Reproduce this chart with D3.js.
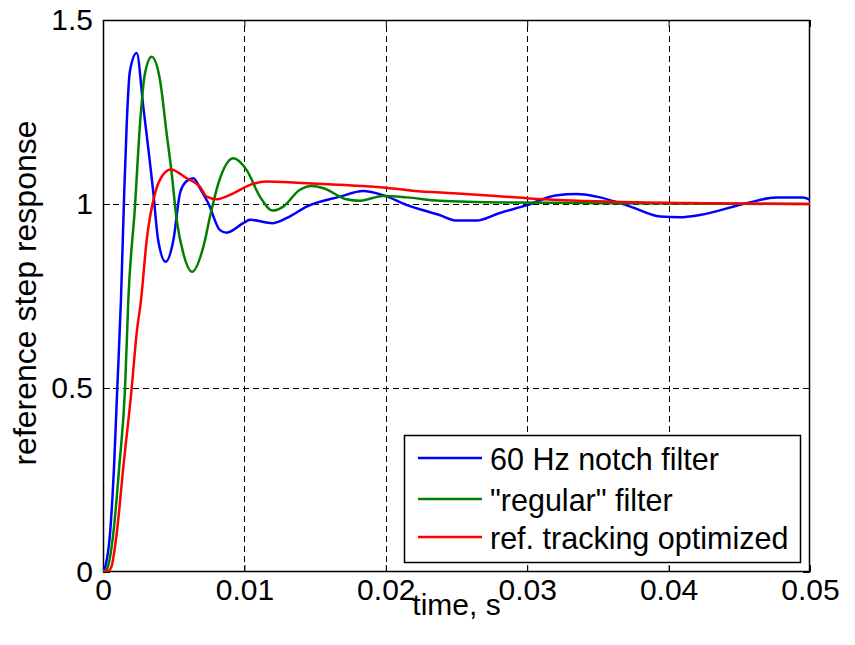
<!DOCTYPE html>
<html>
<head>
<meta charset="utf-8">
<script src="https://cdn.jsdelivr.net/npm/d3@7"></script>
<style>
  body { margin: 0; background: #fff; }
  text { font-family: "Liberation Sans", Arial, sans-serif; fill: #000; }
</style>
</head>
<body>
<svg id="chart" width="855" height="645"></svg>
<script>
// time (s) / response pairs
const notchTime = [0, 0.0002, 0.0005, 0.00078, 0.00101, 0.00127, 0.0015, 0.00168, 0.0019, 0.00238,
  0.00285, 0.00356, 0.0039, 0.00443, 0.00497, 0.00545, 0.0059, 0.00639, 0.0069, 0.00745,
  0.00827, 0.00875, 0.00992, 0.0104, 0.012, 0.0132, 0.0144, 0.01676, 0.0184, 0.0198,
  0.0215, 0.0238, 0.025, 0.0264, 0.028, 0.03, 0.0321, 0.0335, 0.0349, 0.0373,
  0.0394, 0.0408, 0.0422, 0.0455, 0.0476, 0.0495, 0.05];
const notchValue = [0, 0.02, 0.106, 0.286, 0.5, 0.739, 1.03, 1.22, 1.36, 1.41,
  1.264, 1.03, 0.902, 0.843, 0.90, 1.03, 1.062, 1.07, 1.04, 1.002,
  0.929, 0.922, 0.948, 0.957, 0.948, 0.966, 0.993, 1.02, 1.035, 1.024,
  0.997, 0.97, 0.955, 0.955, 0.975, 0.997, 1.024, 1.027, 1.02, 0.993,
  0.966, 0.964, 0.97, 1.002, 1.018, 1.018, 1.011];

const regularTime = [0, 0.0003, 0.00073, 0.00115, 0.00156, 0.00179, 0.00226, 0.00262, 0.00297, 0.00344,
  0.00403, 0.0045, 0.00486, 0.00521, 0.00568, 0.0063, 0.0071, 0.00757, 0.00816, 0.00922,
  0.01016, 0.0111, 0.012, 0.01275, 0.0139, 0.01476, 0.0156, 0.0172, 0.0182, 0.0198,
  0.0215, 0.0238, 0.029, 0.036, 0.05];
const regularValue = [0, 0.01, 0.105, 0.286, 0.5, 0.739, 0.993, 1.219, 1.355, 1.40,
  1.337, 1.192, 1.083, 0.957, 0.866, 0.816, 0.884, 0.966, 1.056, 1.124,
  1.092, 1.02, 0.982, 0.993, 1.038, 1.049, 1.043, 1.013, 1.009, 1.022,
  1.018, 1.009, 1.004, 1.002, 1.0];

const trackingTime = [0, 0.0004, 0.0006, 0.00097, 0.00144, 0.00203, 0.00238, 0.00269, 0.00309, 0.00368,
  0.00415, 0.00479, 0.00592, 0.00686, 0.00733, 0.00804, 0.00922, 0.0104, 0.01158, 0.0137,
  0.01676, 0.0198, 0.0219, 0.0248, 0.0278, 0.0302, 0.0361, 0.0427, 0.05];
const trackingValue = [0, 0.003, 0.0145, 0.105, 0.286, 0.5, 0.649, 0.739, 0.902, 1.029,
  1.074, 1.094, 1.07, 1.047, 1.02, 1.013, 1.029, 1.052, 1.061, 1.058,
  1.052, 1.045, 1.036, 1.029, 1.022, 1.015, 1.006, 1.002, 1.0];

const seriesNames = ['60 Hz notch filter', '"regular" filter', 'ref. tracking optimized'];
const seriesColors = ['#0000ff', '#008000', '#ff0000'];

const xTicks = [0, 0.01, 0.02, 0.03, 0.04, 0.05];
const xTickLabels = ['0', '0.01', '0.02', '0.03', '0.04', '0.05'];
const yTicks = [0, 0.5, 1, 1.5];
const yTickLabels = ['0', '0.5', '1', '1.5'];

const series = [
  notchTime.map((t, i) => [t, notchValue[i]]),
  regularTime.map((t, i) => [t, regularValue[i]]),
  trackingTime.map((t, i) => [t, trackingValue[i]])
];

// plot box in page pixels
const plot = { left: 103, right: 810, top: 20, bottom: 572 };
const fontSize = 30;
const svg = d3.select('#chart');

const x = d3.scaleLinear().domain([0, 0.05]).range([plot.left, plot.right]);
const y = d3.scaleLinear().domain([0, 1.5]).range([plot.bottom, plot.top]);

svg.append('rect').attr('width', 855).attr('height', 645).attr('fill', '#fff');

svg.append('clipPath').attr('id', 'plotClip')
  .append('rect')
  .attr('x', plot.left).attr('y', plot.top - 2)
  .attr('width', plot.right - plot.left).attr('height', plot.bottom - plot.top + 2);

// dashed grid
const grid = svg.append('g').attr('stroke', '#000').attr('stroke-width', 1)
  .attr('stroke-dasharray', '6,4').attr('shape-rendering', 'crispEdges');
grid.selectAll('.vgrid').data(xTicks.slice(1, -1)).enter().append('line')
  .attr('x1', d => Math.round(x(d)) + 0.5).attr('x2', d => Math.round(x(d)) + 0.5)
  .attr('y1', plot.bottom).attr('y2', plot.top);
grid.selectAll('.hgrid').data(yTicks.slice(1, -1)).enter().append('line')
  .attr('y1', d => Math.round(y(d)) + 0.5).attr('y2', d => Math.round(y(d)) + 0.5)
  .attr('x1', plot.left).attr('x2', plot.right);

// axes, ticks inward on all four sides
const tickLen = 7;
const axisBottom = svg.append('g').attr('transform', `translate(0,${plot.bottom})`)
  .call(d3.axisBottom(x).tickValues(xTicks).tickFormat((d, i) => xTickLabels[i])
    .tickSizeInner(-tickLen).tickSizeOuter(0).tickPadding(7));
const axisTop = svg.append('g').attr('transform', `translate(0,${plot.top})`)
  .call(d3.axisTop(x).tickValues(xTicks).tickFormat('').tickSizeInner(-tickLen).tickSizeOuter(0));
const axisLeft = svg.append('g').attr('transform', `translate(${plot.left},0)`)
  .call(d3.axisLeft(y).tickValues(yTicks).tickFormat((d, i) => yTickLabels[i])
    .tickSizeInner(-tickLen).tickSizeOuter(0).tickPadding(10));
const axisRight = svg.append('g').attr('transform', `translate(${plot.right},0)`)
  .call(d3.axisRight(y).tickValues(yTicks).tickFormat('').tickSizeInner(-tickLen).tickSizeOuter(0));

[axisBottom, axisTop, axisLeft, axisRight].forEach(a => {
  a.selectAll('.domain').remove();
  a.selectAll('line').attr('stroke', '#000').attr('stroke-width', 1);
  a.selectAll('text').style('font-size', fontSize + 'px')
    .style('font-family', '"Liberation Sans", Arial, sans-serif').attr('fill', '#000');
});
axisBottom.selectAll('text').attr('dy', '0.71em');

// box
svg.append('rect')
  .attr('x', plot.left + 0.5).attr('y', plot.top + 0.5)
  .attr('width', plot.right - plot.left - 1).attr('height', plot.bottom - plot.top - 1)
  .attr('fill', 'none').attr('stroke', '#000').attr('stroke-width', 1.5);

// response curves
const line = d3.line().x(d => x(d[0])).y(d => y(d[1])).curve(d3.curveMonotoneX);
svg.append('g').attr('clip-path', 'url(#plotClip)')
  .selectAll('path').data(series).enter().append('path')
  .attr('d', line)
  .attr('fill', 'none')
  .attr('stroke', (d, i) => seriesColors[i])
  .attr('stroke-width', 2.5)
  .attr('stroke-linejoin', 'round');

// axis labels
svg.append('text')
  .attr('x', (plot.left + plot.right) / 2).attr('y', 615)
  .attr('text-anchor', 'middle').style('font-size', fontSize + 'px')
  .text('time, s');
svg.append('text')
  .attr('transform', `translate(36,${(plot.top + plot.bottom) / 2 - 3}) rotate(-90)`)
  .attr('text-anchor', 'middle').style('font-size', '32px')
  .text('reference step response');

// legend
const legend = svg.append('g').attr('transform', 'translate(404,435)');
legend.append('rect')
  .attr('x', 0.5).attr('y', 0.5).attr('width', 396).attr('height', 127)
  .attr('fill', '#fff').attr('stroke', '#000').attr('stroke-width', 1.5);
const rowY = [23, 64, 102];
const rows = legend.selectAll('.row').data(seriesNames).enter().append('g')
  .attr('transform', (d, i) => `translate(0,${rowY[i]})`);
rows.append('line')
  .attr('x1', 14).attr('x2', 78).attr('y1', 0).attr('y2', 0)
  .attr('stroke', (d, i) => seriesColors[i]).attr('stroke-width', 2.5);
rows.append('text')
  .attr('x', 86).attr('y', 12)
  .style('font-size', '30.5px')
  .text(d => d);
</script>
</body>
</html>
